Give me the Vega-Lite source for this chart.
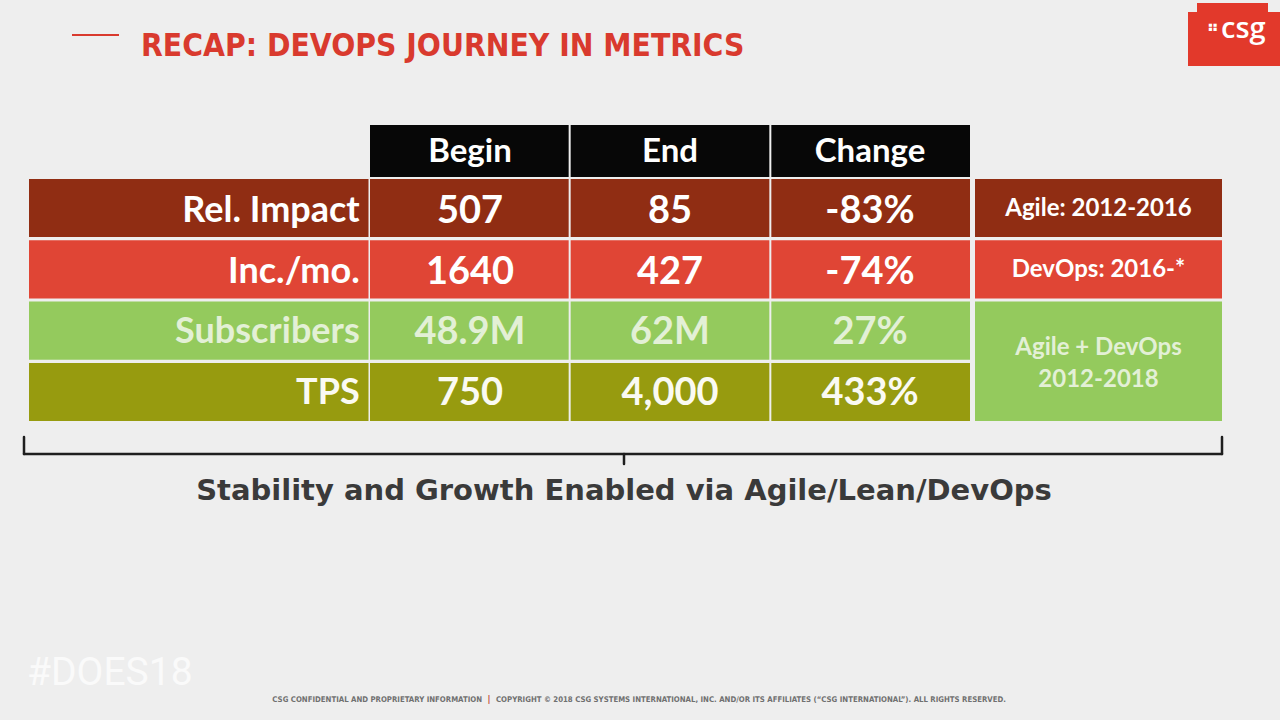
{
  "$schema": "https://vega.github.io/schema/vega-lite/v6.json",
  "width": 1280,
  "height": 720,
  "autosize": "none",
  "padding": 0,
  "background": "#EEEEEE",
  "config": {"view": {"stroke": null}, "font": "Lato"},
  "datasets": {
    "headers": [
      {"row": "header", "column": "Begin"},
      {"row": "header", "column": "End"},
      {"row": "header", "column": "Change"}
    ],
    "table": [
      {"metric": "Rel. Impact", "column": "label", "text": "Rel. Impact", "era": "Agile"},
      {"metric": "Rel. Impact", "column": "Begin", "text": "507", "era": "Agile"},
      {"metric": "Rel. Impact", "column": "End", "text": "85", "era": "Agile"},
      {"metric": "Rel. Impact", "column": "Change", "text": "-83%", "era": "Agile"},
      {"metric": "Rel. Impact", "column": "note", "text": "Agile: 2012-2016", "era": "Agile"},
      {"metric": "Inc./mo.", "column": "label", "text": "Inc./mo.", "era": "DevOps"},
      {"metric": "Inc./mo.", "column": "Begin", "text": "1640", "era": "DevOps"},
      {"metric": "Inc./mo.", "column": "End", "text": "427", "era": "DevOps"},
      {"metric": "Inc./mo.", "column": "Change", "text": "-74%", "era": "DevOps"},
      {"metric": "Inc./mo.", "column": "note", "text": "DevOps: 2016-*", "era": "DevOps"},
      {"metric": "Subscribers", "column": "label", "text": "Subscribers", "era": "Agile + DevOps"},
      {"metric": "Subscribers", "column": "Begin", "text": "48.9M", "era": "Agile + DevOps"},
      {"metric": "Subscribers", "column": "End", "text": "62M", "era": "Agile + DevOps"},
      {"metric": "Subscribers", "column": "Change", "text": "27%", "era": "Agile + DevOps"},
      {"metric": "Subscribers", "column": "note", "text": "Agile + DevOps\n2012-2018", "era": "Agile + DevOps"},
      {"metric": "TPS", "column": "label", "text": "TPS", "era": "Agile + DevOps"},
      {"metric": "TPS", "column": "Begin", "text": "750", "era": "Agile + DevOps"},
      {"metric": "TPS", "column": "End", "text": "4,000", "era": "Agile + DevOps"},
      {"metric": "TPS", "column": "Change", "text": "433%", "era": "Agile + DevOps"}
    ],
    "slide": [
      {"part": "title", "text": "RECAP: DEVOPS JOURNEY IN METRICS"},
      {"part": "caption", "text": "Stability and Growth Enabled via Agile/Lean/DevOps"},
      {"part": "tag", "text": "#DOES18"},
      {"part": "logo", "text": "csg"},
      {"part": "logo_mark", "text": "⠛"},
      {"part": "footer_left", "text": "CSG CONFIDENTIAL AND PROPRIETARY INFORMATION"},
      {"part": "footer_sep", "text": "|"},
      {"part": "footer_right", "text": "COPYRIGHT © 2018 CSG SYSTEMS INTERNATIONAL, INC. AND/OR ITS AFFILIATES (“CSG INTERNATIONAL”). ALL RIGHTS RESERVED."}
    ]
  },
  "resolve": {"scale": {"x": "independent", "y": "independent", "color": "independent"}},
  "layer": [
    {
      "data": {"name": "headers"},
      "mark": {"type": "rect", "fill": "#070707"},
      "encoding": {
        "x": {"field": "column", "type": "nominal", "sort": null, "axis": null, "scale": {"domain": ["Begin", "End", "Change"], "range": [370, 970], "paddingInner": 0.01, "paddingOuter": 0}},
        "y": {"field": "row", "type": "nominal", "axis": null, "scale": {"domain": ["header"], "range": [125, 177], "paddingInner": 0, "paddingOuter": 0}}
      }
    },
    {
      "data": {"name": "headers"},
      "mark": {"type": "text", "font": "Lato", "fontWeight": "bold", "fontSize": 33, "fill": "#FFFFFF", "baseline": "middle", "align": "center", "yOffset": 1},
      "encoding": {
        "x": {"field": "column", "type": "nominal", "sort": null, "axis": null, "scale": {"domain": ["Begin", "End", "Change"], "range": [370, 970], "paddingInner": 0.01, "paddingOuter": 0}},
        "y": {"field": "row", "type": "nominal", "axis": null, "scale": {"domain": ["header"], "range": [125, 177], "paddingInner": 0, "paddingOuter": 0}},
        "text": {"field": "column", "type": "nominal"}
      }
    },
    {
      "data": {"name": "table"},
      "transform": [{"filter": "datum.column === 'label'"}],
      "mark": {"type": "rect"},
      "encoding": {
        "x": {"field": "column", "type": "nominal", "axis": null, "scale": {"domain": ["label"], "range": [29, 368.5], "paddingInner": 0, "paddingOuter": 0}},
        "y": {"field": "metric", "type": "nominal", "axis": null, "scale": {"domain": ["Rel. Impact", "Inc./mo.", "Subscribers", "TPS"], "range": [179, 421], "paddingInner": 0.052, "paddingOuter": 0}},
        "color": {"field": "metric", "type": "nominal", "legend": null, "scale": {"domain": ["Rel. Impact", "Inc./mo.", "Subscribers", "TPS"], "range": ["#902D13", "#E04535", "#94CA5D", "#979B0F"]}}
      }
    },
    {
      "data": {"name": "table"},
      "transform": [{"filter": "datum.column === 'label'"}],
      "mark": {"type": "text", "font": "Lato", "fontWeight": "bold", "fontSize": 36, "baseline": "middle", "align": "right", "xOffset": 161, "yOffset": 2},
      "encoding": {
        "x": {"field": "column", "type": "nominal", "axis": null, "scale": {"domain": ["label"], "range": [29, 368.5], "paddingInner": 0, "paddingOuter": 0}},
        "y": {"field": "metric", "type": "nominal", "axis": null, "scale": {"domain": ["Rel. Impact", "Inc./mo.", "Subscribers", "TPS"], "range": [179, 421], "paddingInner": 0.052, "paddingOuter": 0}},
        "color": {"field": "metric", "type": "nominal", "legend": null, "scale": {"domain": ["Rel. Impact", "Inc./mo.", "Subscribers", "TPS"], "range": ["#FFFFFF", "#FFFFFF", "#E3F0D6", "#FAFAF2"]}},
        "text": {"field": "text", "type": "nominal"}
      }
    },
    {
      "data": {"name": "table"},
      "transform": [{"filter": "datum.column !== 'label' && datum.column !== 'note'"}],
      "mark": {"type": "rect"},
      "encoding": {
        "x": {"field": "column", "type": "nominal", "sort": null, "axis": null, "scale": {"domain": ["Begin", "End", "Change"], "range": [370, 970], "paddingInner": 0.01, "paddingOuter": 0}},
        "y": {"field": "metric", "type": "nominal", "axis": null, "scale": {"domain": ["Rel. Impact", "Inc./mo.", "Subscribers", "TPS"], "range": [179, 421], "paddingInner": 0.052, "paddingOuter": 0}},
        "color": {"field": "metric", "type": "nominal", "legend": null, "scale": {"domain": ["Rel. Impact", "Inc./mo.", "Subscribers", "TPS"], "range": ["#902D13", "#E04535", "#94CA5D", "#979B0F"]}}
      }
    },
    {
      "data": {"name": "table"},
      "transform": [{"filter": "datum.column !== 'label' && datum.column !== 'note'"}],
      "mark": {"type": "text", "font": "Lato", "fontWeight": "bold", "fontSize": 38, "baseline": "middle", "align": "center", "yOffset": 3},
      "encoding": {
        "x": {"field": "column", "type": "nominal", "sort": null, "axis": null, "scale": {"domain": ["Begin", "End", "Change"], "range": [370, 970], "paddingInner": 0.01, "paddingOuter": 0}},
        "y": {"field": "metric", "type": "nominal", "axis": null, "scale": {"domain": ["Rel. Impact", "Inc./mo.", "Subscribers", "TPS"], "range": [179, 421], "paddingInner": 0.052, "paddingOuter": 0}},
        "color": {"field": "metric", "type": "nominal", "legend": null, "scale": {"domain": ["Rel. Impact", "Inc./mo.", "Subscribers", "TPS"], "range": ["#FFFFFF", "#FFFFFF", "#E3F0D6", "#FAFAF2"]}},
        "text": {"field": "text", "type": "nominal"}
      }
    },
    {
      "data": {"name": "table"},
      "transform": [{"filter": "datum.column === 'note' && datum.era !== 'Agile + DevOps'"}],
      "mark": {"type": "rect"},
      "encoding": {
        "x": {"field": "column", "type": "nominal", "axis": null, "scale": {"domain": ["note"], "range": [975, 1222], "paddingInner": 0, "paddingOuter": 0}},
        "y": {"field": "metric", "type": "nominal", "axis": null, "scale": {"domain": ["Rel. Impact", "Inc./mo.", "Subscribers", "TPS"], "range": [179, 421], "paddingInner": 0.052, "paddingOuter": 0}},
        "color": {"field": "era", "type": "nominal", "legend": null, "scale": {"domain": ["Agile", "DevOps", "Agile + DevOps"], "range": ["#902D13", "#E04535", "#94CA5D"]}}
      }
    },
    {
      "data": {"name": "table"},
      "transform": [{"filter": "datum.column === 'note' && datum.era === 'Agile + DevOps'"}],
      "mark": {"type": "rect", "fill": "#94CA5D", "yOffset": -29.05, "y2Offset": 29.05},
      "encoding": {
        "x": {"field": "column", "type": "nominal", "axis": null, "scale": {"domain": ["note"], "range": [975, 1222], "paddingInner": 0, "paddingOuter": 0}},
        "y": {"field": "metric", "type": "nominal", "axis": null, "scale": {"domain": ["Rel. Impact", "Inc./mo.", "Subscribers", "TPS"], "range": [179, 421], "paddingInner": 0.052, "paddingOuter": 0}},
        "y2": {"datum": "TPS"}
      }
    },
    {
      "data": {"name": "table"},
      "transform": [{"filter": "datum.column === 'note' && datum.era !== 'Agile + DevOps'"}],
      "mark": {"type": "text", "font": "Lato", "fontWeight": "bold", "fontSize": 24, "baseline": "middle", "align": "center", "fill": "#FFFFFF", "yOffset": 0},
      "encoding": {
        "x": {"field": "column", "type": "nominal", "axis": null, "scale": {"domain": ["note"], "range": [975, 1222], "paddingInner": 0, "paddingOuter": 0}},
        "y": {"field": "metric", "type": "nominal", "axis": null, "scale": {"domain": ["Rel. Impact", "Inc./mo.", "Subscribers", "TPS"], "range": [179, 421], "paddingInner": 0.052, "paddingOuter": 0}},
        "text": {"field": "text", "type": "nominal"}
      }
    },
    {
      "data": {"name": "table"},
      "transform": [{"filter": "datum.column === 'note' && datum.era === 'Agile + DevOps'"}],
      "mark": {"type": "text", "font": "Lato", "fontWeight": "bold", "fontSize": 24, "baseline": "middle", "align": "center", "fill": "#E3F0D6", "lineBreak": "\n", "lineHeight": 32, "yOffset": 18},
      "encoding": {
        "x": {"field": "column", "type": "nominal", "axis": null, "scale": {"domain": ["note"], "range": [975, 1222], "paddingInner": 0, "paddingOuter": 0}},
        "y": {"field": "metric", "type": "nominal", "axis": null, "scale": {"domain": ["Rel. Impact", "Inc./mo.", "Subscribers", "TPS"], "range": [179, 421], "paddingInner": 0.052, "paddingOuter": 0}},
        "text": {"field": "text", "type": "nominal"}
      }
    },
    {
      "data": {"name": "slide"},
      "transform": [{"filter": "datum.part === 'title'"}],
      "mark": {"type": "rule", "stroke": "#D93A2E", "strokeWidth": 2},
      "encoding": {
        "x": {"datum": 72, "type": "quantitative", "axis": null, "scale": {"domain": [0, 1280], "range": [0, 1280], "nice": false, "zero": false}},
        "x2": {"datum": 119},
        "y": {"datum": 35, "type": "quantitative", "axis": null, "scale": {"domain": [0, 720], "range": [0, 720], "nice": false, "zero": false}}
      }
    },
    {
      "data": {"name": "slide"},
      "transform": [{"filter": "datum.part === 'title'"}],
      "mark": {"type": "text", "font": "DejaVu Sans Condensed, DejaVu Sans, sans-serif", "fontWeight": "bold", "fontSize": 31.5, "fill": "#D93A2E", "align": "left", "baseline": "alphabetic"},
      "encoding": {
        "x": {"datum": 141, "type": "quantitative", "axis": null, "scale": {"domain": [0, 1280], "range": [0, 1280], "nice": false, "zero": false}},
        "y": {"datum": 56, "type": "quantitative", "axis": null, "scale": {"domain": [0, 720], "range": [0, 720], "nice": false, "zero": false}},
        "text": {"field": "text", "type": "nominal"}
      }
    },
    {
      "data": {"name": "slide"},
      "transform": [{"filter": "datum.part === 'logo'"}],
      "mark": {"type": "rect", "fill": "#E2392B"},
      "encoding": {
        "x": {"datum": 1197, "type": "quantitative", "axis": null, "scale": {"domain": [0, 1280], "range": [0, 1280], "nice": false, "zero": false}},
        "x2": {"datum": 1268},
        "y": {"datum": 3, "type": "quantitative", "axis": null, "scale": {"domain": [0, 720], "range": [0, 720], "nice": false, "zero": false}},
        "y2": {"datum": 66}
      }
    },
    {
      "data": {"name": "slide"},
      "transform": [{"filter": "datum.part === 'logo'"}],
      "mark": {"type": "rect", "fill": "#E2392B"},
      "encoding": {
        "x": {"datum": 1188, "type": "quantitative", "axis": null, "scale": {"domain": [0, 1280], "range": [0, 1280], "nice": false, "zero": false}},
        "x2": {"datum": 1280},
        "y": {"datum": 12, "type": "quantitative", "axis": null, "scale": {"domain": [0, 720], "range": [0, 720], "nice": false, "zero": false}},
        "y2": {"datum": 66}
      }
    },
    {
      "data": {"name": "slide"},
      "transform": [{"filter": "datum.part === 'logo'"}],
      "mark": {"type": "text", "font": "Open Sans", "fontWeight": 600, "fontSize": 29, "fill": "#FFFFFF", "align": "left", "baseline": "alphabetic"},
      "encoding": {
        "x": {"datum": 1221, "type": "quantitative", "axis": null, "scale": {"domain": [0, 1280], "range": [0, 1280], "nice": false, "zero": false}},
        "y": {"datum": 38, "type": "quantitative", "axis": null, "scale": {"domain": [0, 720], "range": [0, 720], "nice": false, "zero": false}},
        "text": {"field": "text", "type": "nominal"}
      }
    },
    {
      "data": {"name": "slide"},
      "transform": [{"filter": "datum.part === 'logo_mark'"}],
      "mark": {"type": "text", "font": "DejaVu Sans", "fontWeight": "bold", "fontSize": 16, "fill": "#FFFFFF", "align": "center", "baseline": "middle"},
      "encoding": {
        "x": {"datum": 1213, "type": "quantitative", "axis": null, "scale": {"domain": [0, 1280], "range": [0, 1280], "nice": false, "zero": false}},
        "y": {"datum": 31, "type": "quantitative", "axis": null, "scale": {"domain": [0, 720], "range": [0, 720], "nice": false, "zero": false}},
        "text": {"field": "text", "type": "nominal"}
      }
    },
    {
      "data": {"name": "slide"},
      "transform": [{"filter": "datum.part === 'caption'"}],
      "mark": {"type": "rule", "stroke": "#1E1E1E", "strokeWidth": 2.5, "strokeCap": "round"},
      "encoding": {
        "x": {"datum": 24, "type": "quantitative", "axis": null, "scale": {"domain": [0, 1280], "range": [0, 1280], "nice": false, "zero": false}},
        "x2": {"datum": 1222},
        "y": {"datum": 454, "type": "quantitative", "axis": null, "scale": {"domain": [0, 720], "range": [0, 720], "nice": false, "zero": false}}
      }
    },
    {
      "data": {"name": "slide"},
      "transform": [{"filter": "datum.part === 'caption'"}],
      "mark": {"type": "rule", "stroke": "#1E1E1E", "strokeWidth": 2.5, "strokeCap": "round"},
      "encoding": {
        "x": {"datum": 24, "type": "quantitative", "axis": null, "scale": {"domain": [0, 1280], "range": [0, 1280], "nice": false, "zero": false}},
        "y": {"datum": 437, "type": "quantitative", "axis": null, "scale": {"domain": [0, 720], "range": [0, 720], "nice": false, "zero": false}},
        "y2": {"datum": 454}
      }
    },
    {
      "data": {"name": "slide"},
      "transform": [{"filter": "datum.part === 'caption'"}],
      "mark": {"type": "rule", "stroke": "#1E1E1E", "strokeWidth": 2.5, "strokeCap": "round"},
      "encoding": {
        "x": {"datum": 1222, "type": "quantitative", "axis": null, "scale": {"domain": [0, 1280], "range": [0, 1280], "nice": false, "zero": false}},
        "y": {"datum": 437, "type": "quantitative", "axis": null, "scale": {"domain": [0, 720], "range": [0, 720], "nice": false, "zero": false}},
        "y2": {"datum": 454}
      }
    },
    {
      "data": {"name": "slide"},
      "transform": [{"filter": "datum.part === 'caption'"}],
      "mark": {"type": "rule", "stroke": "#1E1E1E", "strokeWidth": 2.5, "strokeCap": "round"},
      "encoding": {
        "x": {"datum": 624, "type": "quantitative", "axis": null, "scale": {"domain": [0, 1280], "range": [0, 1280], "nice": false, "zero": false}},
        "y": {"datum": 454, "type": "quantitative", "axis": null, "scale": {"domain": [0, 720], "range": [0, 720], "nice": false, "zero": false}},
        "y2": {"datum": 464}
      }
    },
    {
      "data": {"name": "slide"},
      "transform": [{"filter": "datum.part === 'caption'"}],
      "mark": {"type": "text", "font": "DejaVu Sans", "fontWeight": "bold", "fontSize": 29, "fill": "#3A3A3A", "align": "center", "baseline": "alphabetic"},
      "encoding": {
        "x": {"datum": 624, "type": "quantitative", "axis": null, "scale": {"domain": [0, 1280], "range": [0, 1280], "nice": false, "zero": false}},
        "y": {"datum": 500, "type": "quantitative", "axis": null, "scale": {"domain": [0, 720], "range": [0, 720], "nice": false, "zero": false}},
        "text": {"field": "text", "type": "nominal"}
      }
    },
    {
      "data": {"name": "slide"},
      "transform": [{"filter": "datum.part === 'tag'"}],
      "mark": {"type": "text", "font": "Roboto", "fontSize": 39, "fill": "#FAFAFA", "align": "left", "baseline": "alphabetic"},
      "encoding": {
        "x": {"datum": 27, "type": "quantitative", "axis": null, "scale": {"domain": [0, 1280], "range": [0, 1280], "nice": false, "zero": false}},
        "y": {"datum": 685, "type": "quantitative", "axis": null, "scale": {"domain": [0, 720], "range": [0, 720], "nice": false, "zero": false}},
        "text": {"field": "text", "type": "nominal"}
      }
    },
    {
      "data": {"name": "slide"},
      "transform": [{"filter": "datum.part === 'footer_left'"}],
      "mark": {"type": "text", "font": "DejaVu Sans Condensed, DejaVu Sans, sans-serif", "fontWeight": "bold", "fontSize": 7.75, "fill": "#707070", "align": "right", "baseline": "alphabetic"},
      "encoding": {
        "x": {"datum": 482, "type": "quantitative", "axis": null, "scale": {"domain": [0, 1280], "range": [0, 1280], "nice": false, "zero": false}},
        "y": {"datum": 702, "type": "quantitative", "axis": null, "scale": {"domain": [0, 720], "range": [0, 720], "nice": false, "zero": false}},
        "text": {"field": "text", "type": "nominal"}
      }
    },
    {
      "data": {"name": "slide"},
      "transform": [{"filter": "datum.part === 'footer_sep'"}],
      "mark": {"type": "text", "font": "DejaVu Sans Condensed, DejaVu Sans, sans-serif", "fontWeight": "bold", "fontSize": 9, "fill": "#C0392B", "align": "center", "baseline": "alphabetic"},
      "encoding": {
        "x": {"datum": 489, "type": "quantitative", "axis": null, "scale": {"domain": [0, 1280], "range": [0, 1280], "nice": false, "zero": false}},
        "y": {"datum": 702, "type": "quantitative", "axis": null, "scale": {"domain": [0, 720], "range": [0, 720], "nice": false, "zero": false}},
        "text": {"field": "text", "type": "nominal"}
      }
    },
    {
      "data": {"name": "slide"},
      "transform": [{"filter": "datum.part === 'footer_right'"}],
      "mark": {"type": "text", "font": "DejaVu Sans Condensed, DejaVu Sans, sans-serif", "fontWeight": "bold", "fontSize": 7.75, "fill": "#707070", "align": "left", "baseline": "alphabetic"},
      "encoding": {
        "x": {"datum": 496, "type": "quantitative", "axis": null, "scale": {"domain": [0, 1280], "range": [0, 1280], "nice": false, "zero": false}},
        "y": {"datum": 702, "type": "quantitative", "axis": null, "scale": {"domain": [0, 720], "range": [0, 720], "nice": false, "zero": false}},
        "text": {"field": "text", "type": "nominal"}
      }
    }
  ]
}
